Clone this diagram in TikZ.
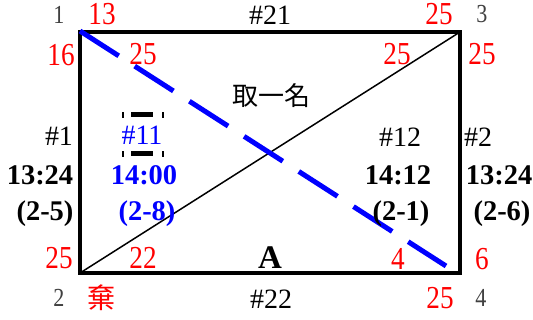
\documentclass[tikz,border=0pt]{standalone}
\usepackage{fontspec}
\setmainfont{Liberation Serif}
\newfontfamily\narrowf[FakeStretch=0.85]{Liberation Serif}
\newfontfamily\cjk{Noto Sans CJK TC}
\begin{document}
\begin{tikzpicture}[x=1pt,y=-1pt,
  rnum/.style={inner sep=0pt, text=red, font=\narrowf\fontsize{32}{34}\selectfont},
  gnum/.style={inner sep=0pt, text=black!75, font=\narrowf\fontsize{26}{28}\selectfont},
  reg/.style={inner sep=0pt, font=\fontsize{28}{30}\selectfont},
  bld/.style={inner sep=0pt, font=\bfseries\fontsize{28.5}{30}\selectfont},
  cjkl/.style={inner sep=0pt, font=\cjk\fontsize{26}{28}\selectfont},
  frame/.style={line width=3.8pt},
  thin/.style={line width=1.5pt},
  bluedash/.style={draw=blue, line width=5pt, dash pattern=on 46pt off 19pt},
  tick/.style={fill=black}]
\useasboundingbox (0,0) rectangle (533,320);
% frame
\coordinate (c1) at (80,32);
\coordinate (c3) at (460,32);
\coordinate (c4) at (460,273);
\coordinate (c2) at (80,273);
\draw[frame] (c1) -- (c3) -- (c4) -- (c2) -- cycle;
\draw[thin] (c2) -- (c3);
\coordinate (bs) at (80,31);
\coordinate (be) at (446,266);
\draw[bluedash] (bs) -- (be);
% corner labels
\node[gnum] (n1) at (59,15) {1};
\node[gnum] (n3) at (482,14) {3};
\node[gnum] (n2) at (59,298) {2};
\node[gnum] (n4) at (481,298) {4};
% top row
\node[rnum] (t13) at (102,14) {13};
\node[reg] (h21) at (270,15) {\#21};
\node[rnum] (t25) at (439,14) {25};
\node[rnum] (l16) at (61,55) {16};
\node[rnum] (i25a) at (143,54) {25};
\node[rnum] (i25b) at (397,54) {25};
\node[rnum] (r25) at (482,54) {25};
\node[cjkl] (qym) at (271,96) {取一名};
% middle
\node[reg] (h1) at (59,136) {\#1};
\node[reg, text=blue] (h11) at (142,135) {\#11};
\node[reg] (h12) at (400,137) {\#12};
\node[reg] (h2) at (478,137) {\#2};
\node[bld] (tA) at (40,175.5) {13:24};
\node[bld, text=blue] (tB) at (144,175.5) {14:00};
\node[bld] (tC) at (398,175.5) {14:12};
\node[bld] (tD) at (499,175.5) {13:24};
\node[bld] (sA) at (45,214) {(2-5)};
\node[bld, text=blue] (sB) at (147,214) {(2-8)};
\node[bld] (sC) at (401,214) {(2-1)};
\node[bld] (sD) at (502,214) {(2-6)};
% bottom
\node[rnum] (b25) at (59,258) {25};
\node[rnum] (b22) at (143,258) {22};
\node[bld, font=\bfseries\fontsize{33}{35}\selectfont] (lA) at (270,258) {A};
\node[rnum] (b4) at (398,259) {4};
\node[rnum] (b6) at (482,259) {6};
\node[inner sep=0pt, text=red, font=\cjk\fontsize{28}{30}\selectfont] (qi) at (101,298) {棄};
\node[reg] (h22) at (271,299) {\#22};
\node[rnum] (bb25) at (440,298) {25};
% dash-dot frame around #11
\fill[tick] (122,112) rectangle (124,118);
\fill[tick] (131,112) rectangle (153,117);
\fill[tick] (162,112) rectangle (164,118);
\fill[tick] (122,151) rectangle (124,157);
\fill[tick] (131,151.5) rectangle (153,156.5);
\fill[tick] (162,151) rectangle (164,157);
\end{tikzpicture}
\end{document}
